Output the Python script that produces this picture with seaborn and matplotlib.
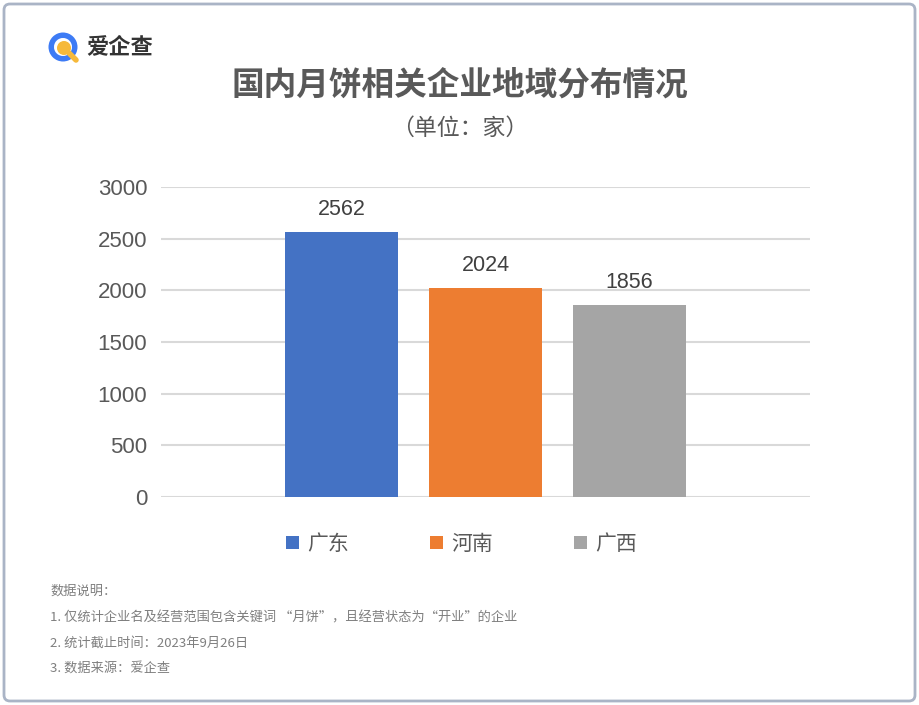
import matplotlib
matplotlib.use("Agg")
import matplotlib.pyplot as plt
import seaborn as sns
import pandas as pd
from matplotlib.patches import FancyBboxPatch, Circle, Wedge

# ---- data ----
regions = ["广东", "河南", "广西"]
counts = [2562, 2024, 1856]
colors = ["#4472C4", "#ED7D31", "#A5A5A5"]
yticks = [0, 500, 1000, 1500, 2000, 2500, 3000]
title = "国内月饼相关企业地域分布情况"
subtitle = "（单位：家）"
notes = [
    "数据说明：",
    "1. 仅统计企业名及经营范围包含关键词 “月饼”，且经营状态为“开业”的企业",
    "2. 统计截止时间：2023年9月26日",
    "3. 数据来源：爱企查",
]

sns.set_theme(style="white")
plt.rcParams["font.family"] = ["Noto Sans CJK SC", "DejaVu Sans"]

df = pd.DataFrame({"group": ["all"] * len(regions), "region": regions, "value": counts})

fig = plt.figure(figsize=(9.19, 7.05), dpi=100)
ax = fig.add_axes([0.1752, 0.2950, 0.7062, 0.4398])

sns.barplot(data=df, x="group", y="value", hue="region", hue_order=regions,
            palette=colors, width=0.666, gap=0.216, ax=ax, legend=True,
            edgecolor="none", saturation=1)

ax.set_xlim(-0.5, 0.5)
ax.set_ylim(0, 3000)
ax.set_yticks(yticks)
ax.set_yticklabels([str(t) for t in yticks], fontfamily="Liberation Sans",
                   fontsize=16, color="#595959")
ax.tick_params(axis="y", length=0, pad=10)
ax.set_xticks([])
ax.set_xlabel("")
ax.set_ylabel("")
ax.yaxis.grid(True, color="#D9D9D9", linewidth=1.5)
ax.set_axisbelow(True)
for s in ax.spines.values():
    s.set_visible(False)

for c in ax.containers:
    ax.bar_label(c, labels=[f"{int(v)}" for v in c.datavalues], padding=8.5,
                 fontfamily="Liberation Sans", fontsize=15.5, color="#404040")

handles, labels = ax.get_legend_handles_labels()
ax.get_legend().remove()
fig.legend(handles, labels, loc="center", bbox_to_anchor=(0.502, 0.2284),
           ncol=3, frameon=False, fontsize=15, labelcolor="#595959",
           handlelength=0.62, handleheight=0.62, handletextpad=0.4,
           columnspacing=3.9)

# titles
fig.text(0.5, 1 - 85 / 705, title, ha="center", va="center", fontsize=23.5,
         fontweight="bold", color="#595959")
fig.text(0.5, 1 - 128 / 705, subtitle, ha="center", va="center", fontsize=16.5,
         color="#595959")

# notes
ys = [591, 618, 643, 668]
for t, y in zip(notes, ys):
    fig.text(50 / 919, 1 - y / 705, t, ha="left", va="center", fontsize=9.5,
             color="#7F7F7F")

# logo + border drawn in pixel coordinates
W, H = 919, 705
lax = fig.add_axes([0, 0, 1, 1], zorder=-1)
lax.set_xlim(0, W)
lax.set_ylim(0, H)
lax.axis("off")
cx, cy = 63, 47
lax.add_patch(Wedge((cx, H - cy), 14.5, 0, 360, width=5.5, facecolor="#3D7BF5",
                    edgecolor="none"))
lax.add_patch(Circle((cx + 1, H - cy - 1), 7, facecolor="#F6B93B", edgecolor="none"))
lax.plot([cx + 6, cx + 13], [H - cy - 6, H - cy - 13], color="#F6B93B", lw=4,
         solid_capstyle="round")
lax.text(86, H - 47, "爱企查", ha="left", va="center", fontsize=16,
         fontweight="bold", color="#333333")

lax.add_patch(FancyBboxPatch((4, 4), W - 8, H - 8,
                             boxstyle="round,pad=0,rounding_size=6",
                             facecolor="none", edgecolor="#AAB4C6", lw=2))

fig.savefig("out.png", dpi=100)
